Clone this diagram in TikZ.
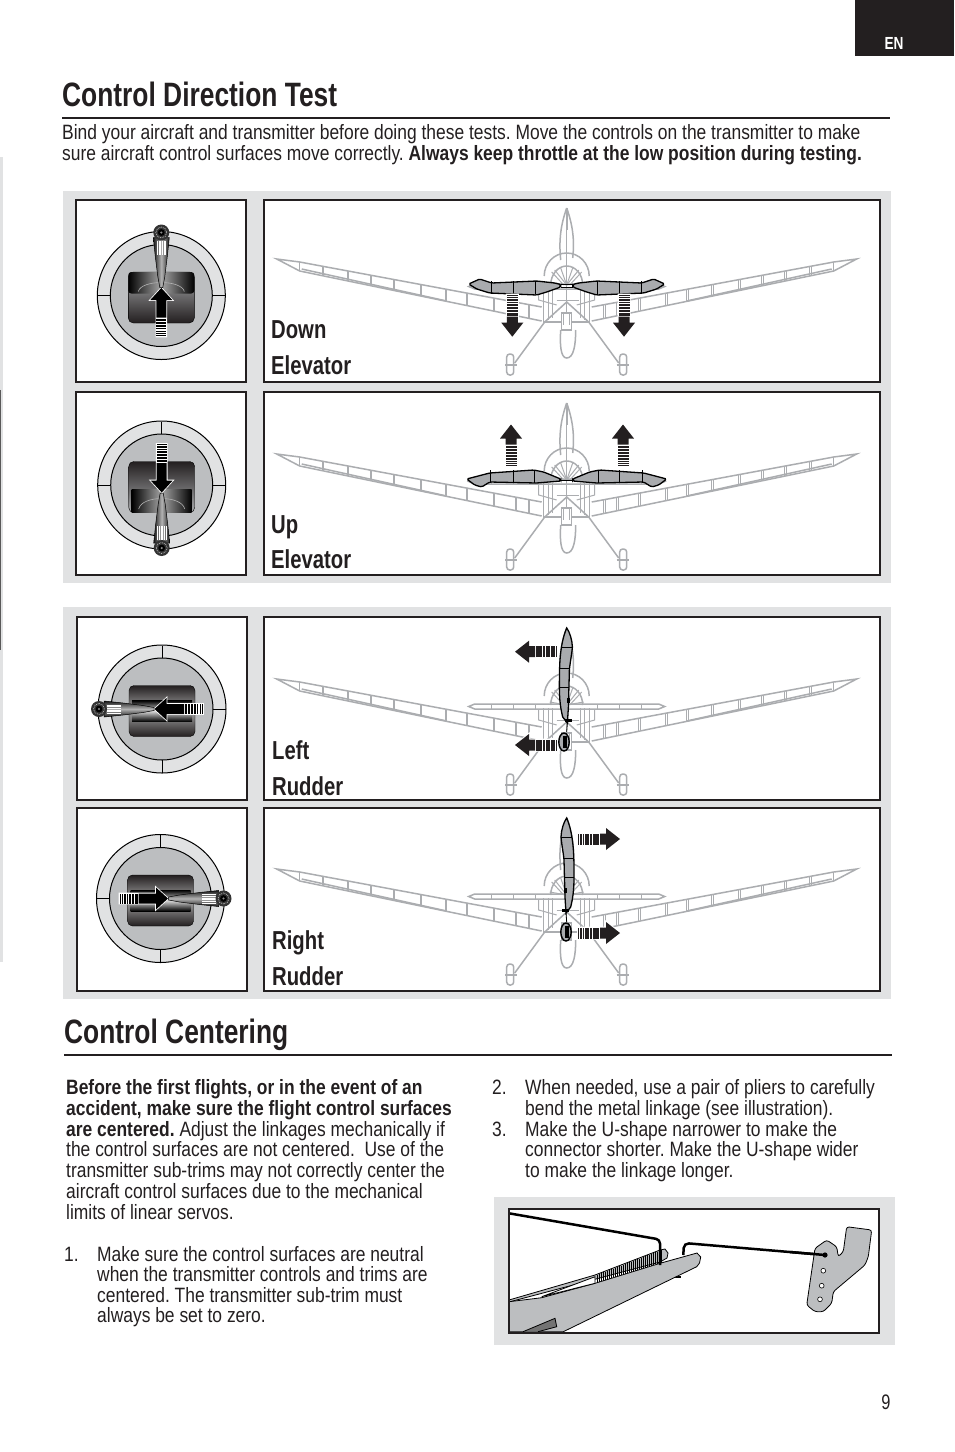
\documentclass[tikz,border=0pt]{standalone}
\usepackage{fontspec}
\setmainfont{Liberation Sans}[FakeStretch=0.78]
\newfontfamily\bodyfont{Liberation Sans}[FakeStretch=0.84]
\definecolor{bandgray}{HTML}{E1E2E3}
\definecolor{inkdark}{HTML}{231F20}
\definecolor{planegray}{HTML}{ABADB0}
\definecolor{partgray}{HTML}{A9ABAE}
\definecolor{gimbalgray}{HTML}{BCBEC0}
\tikzset{
  txt/.style={anchor=base west, inner sep=0pt, text=inkdark, font=\bodyfont\frenchspacing\fontsize{20.75}{23}\selectfont},
  head/.style={anchor=base west, inner sep=0pt, text=inkdark, font=\fontsize{33.8}{36}\selectfont\bfseries},
  tag/.style={anchor=base west, inner sep=0pt, text=inkdark, font=\fontsize{26}{28}\selectfont\bfseries},
  rule/.style={inkdark, line width=2pt},
  frame/.style={draw=inkdark, line width=2.4pt, fill=white},
  planeline/.style={planegray, line width=1.5pt},
  ribline/.style={planegray, line width=1pt},
  partline/.style={draw=black, fill=partgray, line width=1.3pt},
  % -- striped arrow, tip at the origin, pointing up --
  pics/hatcharrow/.style={code={
    \fill[white, draw=white, line width=2pt] (0,0) -- (11,14) -- (5.5,14) -- (5.5,42) -- (-5.5,42) -- (-5.5,14) -- (-11,14) -- cycle;
    \fill[inkdark] (0,0) -- (11,14) -- (5.5,14) -- (5.5,20) -- (-5.5,20) -- (-5.5,14) -- (-11,14) -- cycle;
    \foreach \sy/\sh in {21/2.6, 24.4/2.4, 27.6/2.2, 30.6/2, 33.4/1.8, 36/1.5, 38.4/1.2, 40.6/1}
      \fill[inkdark] (-5.5,\sy) rectangle (5.5,\sy+\sh);
  }},
  % -- gray airplane, seen from the front --
  pics/plane/.style={code={
    \foreach \side in {1,-1}{
      \begin{scope}[xscale=\side]
        % wing
        \draw[planeline] (25,107) -- (267,62) -- (290,59) -- (267,71) -- (25,121);
        \draw[planeline] (120,101) -- (265,69);
        \draw[planeline] (267,62) -- (267,71);
        \foreach \rib in {37,50,72,99,120,145,172,195,218,243}{
          \pgfmathsetmacro\ribtop{107-0.186*(\rib-25)}
          \pgfmathsetmacro\ribbot{121-0.207*(\rib-25)}
          \draw[ribline] (\rib,\ribtop) -- (\rib,\ribbot);
          \draw[ribline, line width=.6pt] (\rib+1.6,\ribtop) -- (\rib+1.6,\ribbot);
        }
        % fuselage side
        \draw[planeline] (23,88) -- (23,122) -- (0,122);
        \draw[ribline] (28,90) -- (28,100) -- (10,105);
        \draw[ribline] (14,88) -- (14,118);
        \draw[ribline] (18,88) -- (18,120);
        % cowl spokes
        \draw[ribline] (0,85) -- (12,70);
        \draw[ribline] (0,85) -- (17,82);
        \draw[ribline] (0,85) -- (6,68);
        \draw[ribline] (3,85) -- (15,72);
        % gear
        \draw[planeline] (0,102) -- (22,122) -- (52,163);
        \draw[planeline, fill=white, rounded corners=3pt] (53,154) rectangle (60,175);
        \draw[planeline] (50,165) -- (62,165);
        % stabilizer
        \draw[planeline] (0,84) -- (92,84) -- (98,86.5) -- (92,89) -- (0,89);
        \foreach \rib in {31,53,75}
          \draw[ribline] (\rib,84) -- (\rib,89);
      \end{scope}
    }
    % fin and lower tail
    \draw[planeline] (0,8) .. controls (-6,25) and (-8,40) .. (-6,60);
    \draw[planeline] (0,8) .. controls (6,25) and (8,40) .. (6,58);
    \draw[planegray, line width=2.4pt] (0,8) -- (0,30);
    \draw[planeline] (0,30) -- (0,125);
    \draw[planeline] (-6,130) .. controls (-7,145) and (-6,158) .. (0,158) .. controls (7,158) and (9,145) .. (9,130);
    % canopy
    \draw[planeline] (-22.5,76) arc (180:360:22.5 and 23);
    \draw[planeline] (-16,85) arc (180:360:16 and 19);
    % engine block
    \draw[planeline, fill=white] (-5,113) rectangle (5,130);
    \draw[ribline] (-3,113) -- (-3,125) (3,113) -- (3,125);
    \draw[ribline] (-10,100) -- (12,100);
  }},
  pics/elevdown/.style={code={
    \foreach \side in {1,-1}{
      \begin{scope}[xscale=\side]
        \draw[partline, rounded corners=1.5pt] (6,84.5) -- (12,83) -- (30,81) -- (75,83) -- (87,79) -- (98,84) -- (90,89) -- (77,93) -- (30,95) -- (20,92) -- (6,87) -- cycle;
        \foreach \rib in {31,53,75}
          \draw[black, line width=.8pt] (\rib,81) -- (\rib,94);
      \end{scope}
    }
    \draw[black, line width=1pt] (-6,84.5) -- (6,84.5) (-6,87) -- (6,87);
  }},
  pics/elevup/.style={code={
    \foreach \side in {1,-1}{
      \begin{scope}[xscale=\side]
        \draw[partline, rounded corners=1.5pt] (6,84) -- (23,77) -- (33,75) -- (77,78) -- (100,84) -- (92,90) -- (85,92) -- (77,87) -- (30,88) -- (6,86) -- cycle;
        \foreach \rib in {32,53,76}
          \draw[black, line width=.8pt] (\rib,75) -- (\rib,88);
      \end{scope}
    }
    \draw[black, line width=1pt] (-6,85) -- (6,85);
  }},
  % -- rudder blade, hinge side to the right --
  pics/rudderblade/.style={code={
    \draw[partline] (0,8) .. controls (3,12) and (5.5,20) .. (5.7,27) .. controls (5,35) and (3,45) .. (2.7,50) -- (1.7,87) -- (0.7,103) -- (-4,97) .. controls (-7,85) and (-7.5,75) .. (-7.3,60) .. controls (-7.3,40) and (-6,22) .. (0,8) -- cycle;
    \draw[black, line width=1pt] (-5.5,27) -- (5.5,27) (-7,48) -- (2.7,48) (-7,67) -- (2,67);
    \fill[black] (0,78) rectangle (3,83);
    \fill[black] (-2,99) rectangle (5,101.5);
    \draw[black, line width=.8pt] (0.7,103) -- (0,112);
  }},
  pics/rudderhub/.style={code={
    \draw[black, fill=partgray, line width=1.4pt] (0,122) ellipse (5.2 and 9);
    \fill[black] (-1,116) rectangle (3,128);
  }},
}
% -- slot faces of the gimbal, centered on the slot --
\newcommand{\slotup}{
  \shade[rounded corners=5pt, top color=gimbalgray!90!black, bottom color=inkdark, draw=black] (-33,-25.5) rectangle (33,25.5);
  \shade[left color=black, right color=black, middle color=black!35, rounded corners=3pt] (-33,-25.5) -- (33,-25.5) -- (33,-4) -- (-33,-4) -- cycle;
  \draw[white!70!black, line width=.6pt] (-23,-6) .. controls (-20,-18) and (20,-18) .. (23,-6);
}
\newcommand{\slotdown}{
  \shade[rounded corners=5pt, top color=inkdark, bottom color=gimbalgray!90!black, draw=black] (-33,-25.5) rectangle (33,25.5);
  \shade[left color=black, right color=black, middle color=black!35] (-30,2) -- (30,2) -- (30,25) -- (-30,25) -- cycle;
  \draw[white!70!black, line width=.6pt] (-23,22) .. controls (-20,8) and (20,8) .. (23,22);
}
\newcommand{\slotside}{
  \shade[rounded corners=5pt, top color=inkdark, bottom color=inkdark, middle color=black!35, draw=black] (-33,-25.5) rectangle (33,25.5);
  \shade[top color=black, bottom color=black, middle color=black!15] (-30,-10.5) rectangle (30,10.5);
}
% -- gimbal: x, y, stick rotation, tick angles, slot face --
\newcommand{\gimbal}[5]{
  \begin{scope}[shift={(#1,#2)}]
    \draw[black, fill=bandgray, line width=1pt] (0,0) circle (64);
    \draw[black, fill=gimbalgray, line width=1pt] (0,0) circle (51);
    \foreach \tick in {#4}
      \draw[black, line width=.9pt] (\tick:51) -- (\tick:63.5);
    \begin{scope}[yshift=-2pt]
      #5
    \end{scope}
    \begin{scope}[rotate=#3]
      % arrow on the slot
      \draw[white, fill=white, line width=1.6pt] (0,-7.5) -- (11,4.5) -- (5,4.5) -- (5,41) -- (-5,41) -- (-5,4.5) -- (-11,4.5) -- cycle;
      \fill[black] (0,-7.5) -- (11,4.5) -- (5,4.5) -- (5,22) -- (-5,22) -- (-5,4.5) -- (-11,4.5) -- cycle;
      \foreach \sy/\sh in {23/2.2, 26.3/2, 29.4/1.8, 32.3/1.6, 35/1.4, 37.5/1.2, 39.6/1}
        \fill[black] (-5,\sy) rectangle (5,\sy+\sh);
      % stick
      \shade[left color=black!90, right color=black!90, middle color=black!30, shading angle=90+#3, draw=black, line width=.5pt] (-1.5,-8) -- (-3.5,-19) -- (-6,-39) -- (-8,-58) -- (8,-58) -- (6,-39) -- (3.5,-19) -- (1.5,-8) -- cycle;
      \foreach \gx in {-4.2,-2.5,-.8,.8,2.5,4.2}
        \draw[white, line width=.4pt] (\gx,-55) -- (\gx,-41);
      \fill[black!80] (0,-63) circle (8);
      \draw[white!70!black, line width=.8pt, densely dotted] (0,-63) circle (5.5);
      \fill[black] (0,-63) circle (3.4);
      \fill[black!45] (0,-63) circle (1.2);
    \end{scope}
  \end{scope}
}
\begin{document}
\begin{tikzpicture}[x=1pt, y=-1pt]
  \useasboundingbox (0,0) rectangle (954,1452);

  % -- Edge strip and tab --
  \fill[bandgray] (0,157) rectangle (3,962);
  \fill[black!65] (0,390) rectangle (1.2,650);
  \fill[inkdark] (855,0) rectangle (954,56);
  \node[anchor=base, inner sep=0pt, text=white, font=\fontsize{17.5}{18}\selectfont\bfseries] (tabtext) at (894,49) {EN};

  % -- Direction test heading --
  \node[head] (dirhead) at (62,106) {Control Direction Test};
  \draw[rule] (62,117.7) -- (890,117.7);
  \node[txt] (dirline1) at (62,139.6) {Bind your aircraft and transmitter before doing these tests. Move the controls on the transmitter to make};
  \node[txt] (dirline2) at (62,160.6) {sure aircraft control surfaces move correctly. \textbf{Always keep throttle at the low position during testing.}};

  % -- Gray bands --
  \fill[bandgray] (63,191) rectangle (891,583);
  \fill[bandgray] (63,607) rectangle (891,999);
  \fill[bandgray] (494,1197) rectangle (895,1345);

  % -- Panels --
  \draw[frame] (76,200) rectangle (246,382);
  \draw[frame] (264,200) rectangle (880,382);
  \draw[frame] (76,392) rectangle (246,575);
  \draw[frame] (264,392) rectangle (880,575);
  \draw[frame] (77,617) rectangle (247,800);
  \draw[frame] (264,617) rectangle (880,800);
  \draw[frame] (77,808) rectangle (247,991);
  \draw[frame] (264,808) rectangle (880,991);

  % -- Sticks --
  \gimbal{161.3}{295.5}{0}{0,180}{\slotup}
  \gimbal{161.7}{485}{180}{0,180,270}{\slotdown}
  \gimbal{162}{709}{90}{0,90,270}{\slotside}
  \gimbal{160.5}{898.5}{-90}{90,180,270}{\slotside}

  % -- Down elevator --
  \pic at (566.7,200) {plane};
  \pic at (566.7,200) {elevdown};
  \pic[rotate=180] at (512.3,336.7) {hatcharrow};
  \pic[rotate=180] at (624,336.7) {hatcharrow};
  \node[tag] (downtop) at (271,338) {Down};
  \node[tag] (downbot) at (271,374.3) {Elevator};

  % -- Up elevator --
  \pic at (566.7,395) {plane};
  \pic at (566.7,395) {elevup};
  \pic at (511,424.5) {hatcharrow};
  \pic at (623,424.5) {hatcharrow};
  \node[tag] (uptop) at (271,533) {Up};
  \node[tag] (upbot) at (271,568.7) {Elevator};

  % -- Left rudder --
  \pic at (566.7,620) {plane};
  \pic[rotate=90] at (515,651.7) {hatcharrow};
  \pic[rotate=90] at (515,745) {hatcharrow};
  \pic at (566.7,620) {rudderblade};
  \pic at (564,620) {rudderhub};
  \node[tag] (lefttop) at (272,759) {Left};
  \node[tag] (leftbot) at (272,795) {Rudder};

  % -- Right rudder --
  \pic at (566.7,810) {plane};
  \pic[rotate=-90] at (620,839) {hatcharrow};
  \pic[rotate=-90] at (620,933) {hatcharrow};
  \pic[xscale=-1] at (566.7,810) {rudderblade};
  \pic at (566,810) {rudderhub};
  \node[tag] (righttop) at (272,949) {Right};
  \node[tag] (rightbot) at (272,985) {Rudder};

  % -- Centering heading --
  \node[head] (cenhead) at (64,1043) {Control Centering};
  \draw[rule] (64,1055) -- (892,1055);

  % -- Left column --
  \node[txt] (lead1) at (66,1094) {\textbf{Before the first flights, or in the event of an}};
  \node[txt] (lead2) at (66,1115) {\textbf{accident, make sure the flight control surfaces}};
  \node[txt] (lead3) at (66,1136) {\textbf{are centered.} Adjust the linkages mechanically if};
  \node[txt] (lead4) at (66,1156.5) {the control surfaces are not centered.\ \ Use of the};
  \node[txt] (lead5) at (66,1177.5) {transmitter sub-trims may not correctly center the};
  \node[txt] (lead6) at (66,1198) {aircraft control surfaces due to the mechanical};
  \node[txt] (lead7) at (66,1219) {limits of linear servos.};
  \node[txt] (num1) at (64,1261) {1.};
  \node[txt] (step1a) at (97,1261) {Make sure the control surfaces are neutral};
  \node[txt] (step1b) at (97,1281.5) {when the transmitter controls and trims are};
  \node[txt] (step1c) at (97,1302) {centered. The transmitter sub-trim must};
  \node[txt] (step1d) at (97,1322.5) {always be set to zero.};

  % -- Right column --
  \node[txt] (num2) at (492,1094) {2.};
  \node[txt] (step2a) at (525,1094) {When needed, use a pair of pliers to carefully};
  \node[txt] (step2b) at (525,1115) {bend the metal linkage (see illustration).};
  \node[txt] (num3) at (492,1136) {3.};
  \node[txt] (step3a) at (525,1136) {Make the U-shape narrower to make the};
  \node[txt] (step3b) at (525,1156.5) {connector shorter. Make the U-shape wider};
  \node[txt] (step3c) at (525,1177.5) {to make the linkage longer.};

  % -- Pliers and linkage --
  \draw[frame] (509,1209) rectangle (879,1332.7);
  \begin{scope}[shift={(490,1195)}]
    \draw[black, line width=2.5pt, rounded corners=5pt] (193.3,60) -- (194,48) -- (335,60);
    % upper jaw
    \draw[black, fill=gimbalgray, line width=.8pt] (19,105) -- (105,80) -- (170,55) -- (175,54) -- (178,58) -- (177,63) -- (170,67) -- (19,107) -- cycle;
    \foreach \gx in {107,109,...,172}{
      \pgfmathsetmacro\gtop{80.5-(\gx-105)*.385}
      \pgfmathsetmacro\gbot{88-(\gx-105)*.31}
      \draw[black, line width=.8pt] (\gx,\gtop) -- (\gx,\gbot);
    }
    % lower jaw
    \fill[black] (185,81) rectangle (191,83);
    \draw[black, fill=gimbalgray, line width=.8pt] (19,106.7) -- (51.7,102.7) -- (105,88.3) -- (170,68.3) -- (207,58) -- (210.7,62) -- (209.5,68) -- (206.7,71.7) -- (73.3,136.7) -- (19,136.7);
    \draw[black, fill=white, line width=.8pt] (51.7,101.7) -- (105,81.7) -- (105,88.3) -- cycle;
    \draw[black, fill=black!55, line width=.8pt] (48,136.7) -- (66.7,131.7) -- (65,123.3) -- (33,136.7);
    \draw[black, line width=2.5pt, rounded corners=4pt] (19,18.3) -- (170,44.5) -- (170,70);
    % control horn
    \draw[black, fill=gimbalgray, line width=.8pt, rounded corners=2.5pt] (356.7,31.7) -- (381.7,35) -- (378.3,61.7) -- (375,70) -- (343.3,96.7) -- (341.7,108.3) -- (333.3,116.7) -- (325,116.7) -- (316.7,110) -- (325,53.3) -- (336.7,45) -- (346.7,51.7) -- (348.3,61.7) -- (353.3,56.7) -- cycle;
    \draw[black, line width=2.5pt] (300,57) -- (335,60);
    \fill[black] (335,60) circle (2.6);
    \foreach \hx/\hy in {333.3/75.7, 331.7/90.7, 330/104.3}
      \draw[black, fill=white, line width=.6pt] (\hx,\hy) circle (2.4);
  \end{scope}
  \draw[inkdark, line width=2.2pt] (509,1209) rectangle (879,1332.7);

  % -- Page number --
  \node[anchor=base, inner sep=0pt, text=inkdark, font=\fontsize{21}{23}\selectfont] (pagenum) at (886,1409) {9};
\end{tikzpicture}
\end{document}
